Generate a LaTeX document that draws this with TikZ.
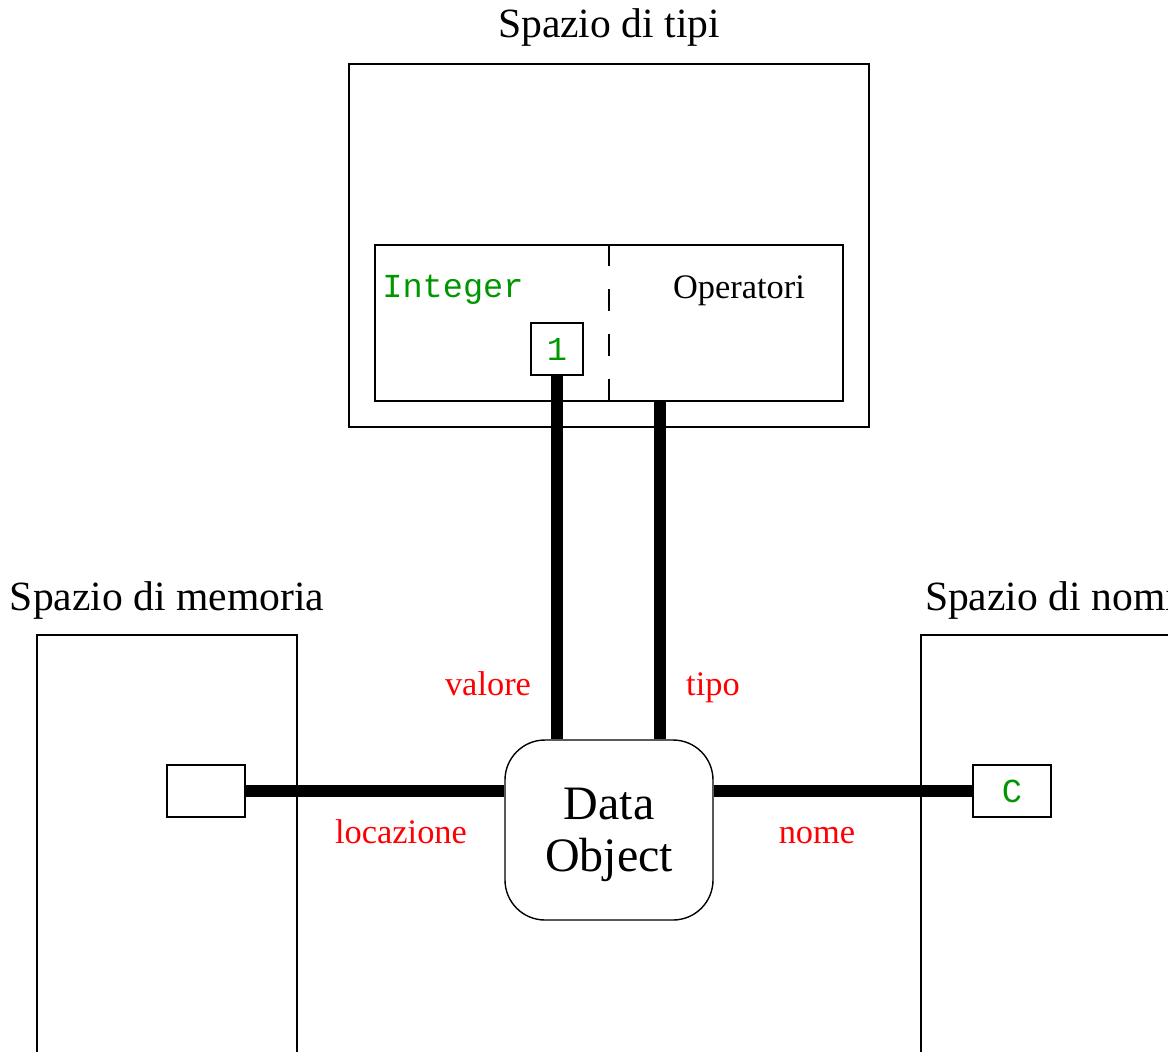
\documentclass[tikz,border=0pt]{standalone}
\usepackage{fontspec}
\setmainfont{Liberation Serif}
\setmonofont{Liberation Mono}
\usepackage{xcolor}
\usetikzlibrary{positioning}
\definecolor{codeGreen}{RGB}{0,150,0}
\tikzstyle{dSpace} = [rectangle, draw=black, line width=0.7pt, inner sep=0pt]
\tikzstyle{dTitle} = [anchor=base, inner sep=0pt, font=\fontsize{20.8}{25}\selectfont]
\tikzstyle{dCell} = [rectangle, draw=black, fill=white, line width=0.7pt, minimum width=39pt, minimum height=26pt, inner sep=0pt, text=codeGreen, font=\fontsize{16.8}{20}\selectfont\ttfamily]
\tikzstyle{dObject} = [rectangle, rounded corners=20pt, draw=black, fill=white, line width=0.7pt, minimum width=104pt, minimum height=90pt, align=center, text depth=0pt, font=\fontsize{24}{26}\selectfont]
\tikzstyle{dLabel} = [anchor=base, inner sep=0pt, text=red, font=\fontsize{17.2}{20}\selectfont]
\tikzstyle{dLink} = [line width=6.2pt]

\begin{document}
\begin{tikzpicture}[x=0.5pt, y=-0.5pt]
    \useasboundingbox (0,0) rectangle (1168,1051);
    \clip (0,0) rectangle (1168,1051);

    % type space with its inner type
    \node (typesSpace) [dSpace, minimum width=260pt, minimum height=181.5pt] at (609,245.5) {};
    \node [dTitle] at (609,37) {Spazio di tipi};
    \node (typeBox) [dSpace, minimum width=234pt, minimum height=78pt] at (609,323) {};
    \draw [line width=0.7pt, dash pattern=on 11pt off 11.5pt] (typeBox.north) -- (typeBox.south);
    \node (typeName) [anchor=base west, inner sep=0pt, text=codeGreen, font=\fontsize{16.8}{20}\selectfont\ttfamily] at (382,297) {Integer};
    \node (typeOps) [anchor=base, inner sep=0pt, font=\fontsize{17.2}{20}\selectfont] at (739,298) {Operatori};
    \node (oneCell) [dCell, minimum width=26pt] at (557,349) {1};
    \coordinate (tipoTop) at (660,401);

    % memory and name spaces
    \node (memSpace) [dSpace, minimum width=130pt, minimum height=300pt] at (167,935) {};
    \node [dTitle] at (167,610) {Spazio di memoria};
    \node (memCell) [dCell] at (206,791) {};
    \node (nameSpace) [dSpace, minimum width=130pt, minimum height=300pt] at (1051,935) {};
    \node [dTitle] at (1051,610) {Spazio di nomi};
    \node (nameCell) [dCell] at (1012,791) {C};

    \node (dataObject) [dObject] at (609,830) {Data\\Object};

    % links
    \draw [dLink] (oneCell.south) -- (oneCell.south |- dataObject.north);
    \draw [dLink] (tipoTop) -- (tipoTop |- dataObject.north);
    \draw [dLink] (memCell.east) -- (memCell.east -| dataObject.west);
    \draw [dLink] (nameCell.west -| dataObject.east) -- (nameCell.west);

    \node [dLabel] at (488,695) {valore};
    \node [dLabel] at (713,695) {tipo};
    \node [dLabel] at (401,843) {locazione};
    \node [dLabel] at (817,843) {nome};
\end{tikzpicture}
\end{document}
